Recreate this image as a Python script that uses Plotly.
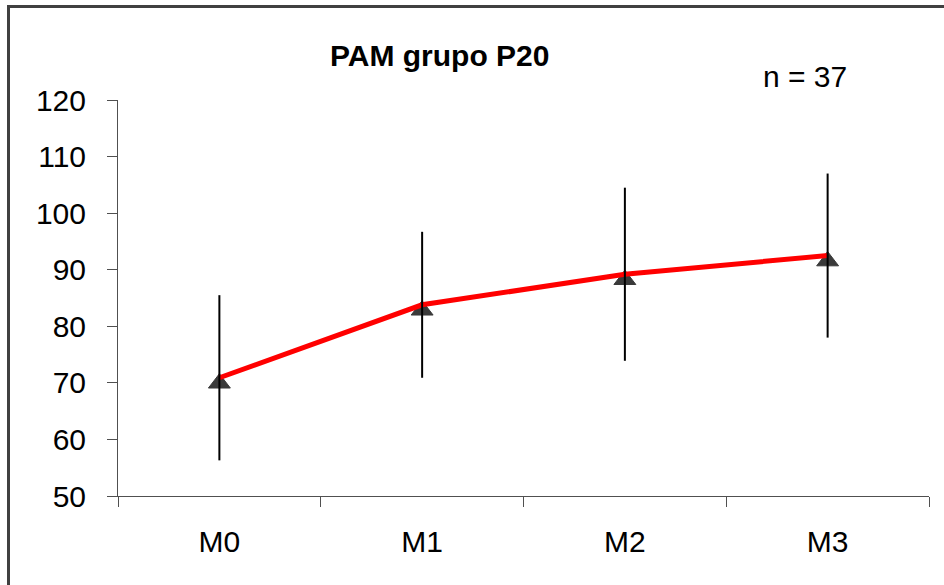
import plotly.graph_objects as go

# Mean arterial pressure (PAM) by measurement moment, group P20
moments = ["M0", "M1", "M2", "M3"]
pam_mean = [70.9, 83.8, 89.2, 92.5]
pam_sd = [14.6, 12.9, 15.3, 14.5]
y_ticks = [50, 60, 70, 80, 90, 100, 110, 120]
chart_title = "PAM grupo P20"
n_label = "n = 37"

W, H = 944, 585
ML, MR, MT, MB = 118, 15, 100, 89
PW, PH = W - ML - MR, H - MT - MB

FONT = "Arial, Liberation Sans, sans-serif"
AXIS_COLOR = "#505050"


def px_x(x):
    return (x - ML) / PW


def px_y(y):
    return (H - MB - y) / PH


fig = go.Figure()

# dark triangle markers sit underneath the line
fig.add_trace(go.Scatter(
    x=moments, y=pam_mean, mode="markers",
    marker=dict(symbol="triangle-up", size=19, color="#3a3a3a",
                line=dict(color="#3a3a3a", width=1), standoff=5.5),
    hoverinfo="skip", showlegend=False,
))

# red mean line
fig.add_trace(go.Scatter(
    x=moments, y=pam_mean, mode="lines",
    line=dict(color="#ff0000", width=5),
    showlegend=False,
))

# standard deviation bars, no caps
fig.add_trace(go.Scatter(
    x=moments, y=pam_mean, mode="markers",
    marker=dict(size=1, color="rgba(0,0,0,0)"),
    error_y=dict(type="data", array=pam_sd, visible=True,
                 color="#000000", thickness=2, width=0),
    hoverinfo="skip", showlegend=False,
))

fig.update_layout(
    width=W, height=H,
    margin=dict(l=ML, r=MR, t=MT, b=MB),
    paper_bgcolor="white", plot_bgcolor="white",
    font=dict(family=FONT, size=30, color="#000000"),
    xaxis=dict(
        type="category", range=[-0.5, 3.5],
        tickson="boundaries", ticks="outside", ticklen=10,
        tickcolor=AXIS_COLOR, tickwidth=1,
        showline=True, linecolor=AXIS_COLOR, linewidth=1,
        showgrid=False, zeroline=False,
        ticklabelstandoff=19,
        tickfont=dict(family=FONT, size=30, color="#000000"),
    ),
    yaxis=dict(
        range=[50, 120], tickvals=y_ticks,
        ticks="outside", ticklen=10,
        tickcolor=AXIS_COLOR, tickwidth=1,
        showline=True, linecolor=AXIS_COLOR, linewidth=1,
        showgrid=False, zeroline=False,
        ticklabelstandoff=15,
        tickfont=dict(family=FONT, size=30, color="#000000"),
    ),
    annotations=[
        dict(text="<b>" + chart_title + "</b>", xref="paper", yref="paper",
             x=px_x(439), y=px_y(55), xanchor="center", yanchor="middle",
             showarrow=False, font=dict(family=FONT, size=30, color="#000000")),
        dict(text=n_label, xref="paper", yref="paper",
             x=px_x(805), y=px_y(77), xanchor="center", yanchor="middle",
             showarrow=False, font=dict(family=FONT, size=30, color="#000000")),
    ],
    shapes=[
        # chart frame (left and top edges)
        dict(type="line", xref="paper", yref="paper",
             x0=px_x(8.5), x1=px_x(8.5), y0=px_y(6.5), y1=px_y(H + 5),
             line=dict(color="#404040", width=3)),
        dict(type="line", xref="paper", yref="paper",
             x0=px_x(7), x1=px_x(W + 5), y0=px_y(6.5), y1=px_y(6.5),
             line=dict(color="#404040", width=3)),
    ],
)

fig.write_html("out.html")
